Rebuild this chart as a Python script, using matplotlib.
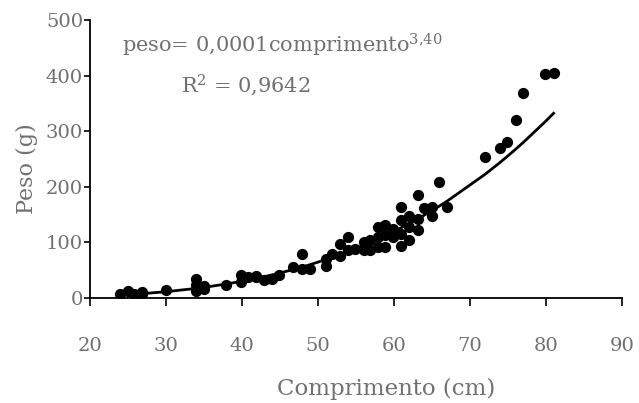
import matplotlib.pyplot as plt
import numpy as np

# comprimento (cm) e peso (g)
comprimento = [23.9, 25.0, 25.8, 26.8, 26.8, 30.0, 33.9, 33.9, 33.9, 35.0, 35.0, 37.9,
               39.9, 39.9, 40.8, 41.9, 41.9, 42.9, 44.0, 44.9, 46.7, 47.9, 47.9, 48.9,
               51.1, 51.1, 51.8, 52.9, 52.9, 53.9, 53.9, 54.9, 56.0, 56.0, 56.8, 56.8,
               57.9, 57.9, 57.9, 58.8, 58.8, 58.8, 59.9, 59.9, 60.9, 60.9, 60.9, 60.9,
               62.0, 62.0, 62.0, 63.1, 63.1, 63.1, 63.9, 65.0, 65.0, 65.9, 67.0,
               72.0, 73.9, 74.9, 76.0, 77.0, 79.9, 81.0]
peso = [8, 13, 8, 11, 7, 14, 35, 23, 13, 16, 22, 23,
        41, 29, 38, 38, 40, 32, 34, 41, 56, 79, 53, 52,
        58, 71, 80, 98, 75, 109, 86, 89, 86, 101, 104, 86,
        128, 110, 92, 131, 92, 113, 125, 110, 164, 140, 116, 94,
        147, 128, 104, 185, 143, 122, 161, 164, 147, 209, 164,
        254, 270, 280, 321, 369, 402, 404]

# curva ajustada (peso = a * comprimento^b)
a_fit = 1.078e-4
b_fit = 3.40

plt.rcParams['font.family'] = ['DejaVu Serif']
plt.rcParams['mathtext.fontset'] = 'dejavuserif'
plt.rcParams['mathtext.default'] = 'regular'
cinza = '#707070'

fig = plt.figure(figsize=(6.39, 4.03), dpi=100)
ax = fig.add_axes([0.1408, 0.2605, 0.8326, 0.6899])

x_curva = np.array(sorted(set(comprimento)))
y_curva = a_fit * x_curva ** b_fit
ax.plot(x_curva, y_curva, color='black', linewidth=2)
ax.scatter(comprimento, peso, s=50, color='black', zorder=3)

ax.set_xlim(20, 90)
ax.set_ylim(0, 500)
ax.set_xticks(np.arange(20, 91, 10))
ax.set_yticks(np.arange(0, 501, 100))

for s in ['top', 'right']:
    ax.spines[s].set_visible(False)
for s in ['left', 'bottom']:
    ax.spines[s].set_linewidth(1.3)

ax.tick_params(axis='x', direction='out', length=6, width=1.2, pad=22,
               labelsize=14, labelcolor=cinza)
ax.tick_params(axis='y', direction='out', length=4, width=1.2, pad=1,
               labelsize=14, labelcolor=cinza)

ax.set_xlabel('Comprimento (cm)', fontsize=16.5, color=cinza)
ax.set_ylabel('Peso (g)', fontsize=16, color=cinza)
ax.xaxis.set_label_coords(0.556, -0.286)
ax.yaxis.set_label_coords(-0.098, 0.465)

ax.text(24.2, 455, r'peso= 0,0001comprimento$^{3{,}40}$', fontsize=15,
        color=cinza, va='center')
ax.text(32.0, 383, r'R$^{2}$ = 0,9642', fontsize=15, color=cinza, va='center')

fig.savefig('out.png', dpi=100)
